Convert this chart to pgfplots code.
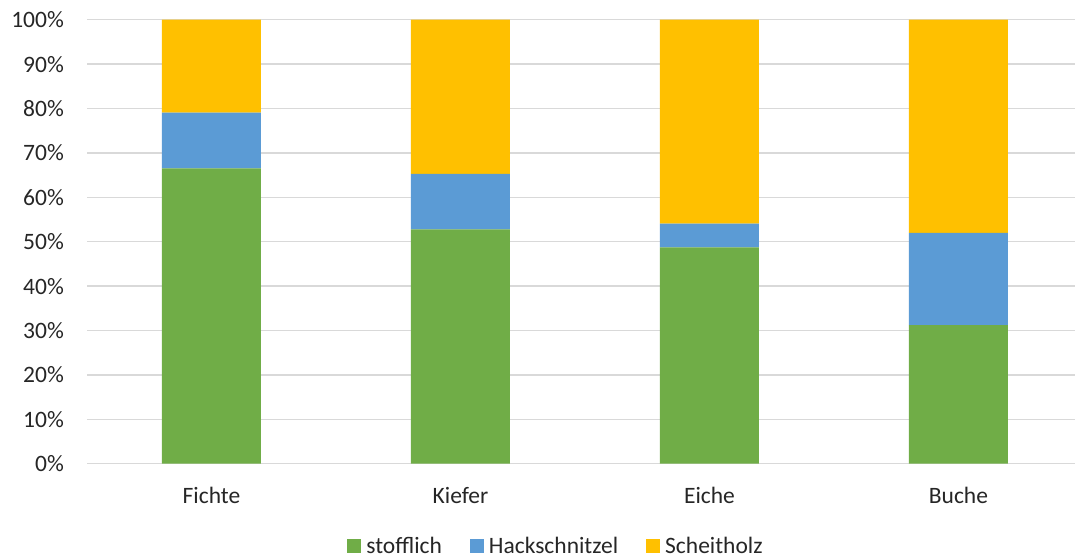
\documentclass[border=0pt]{standalone}
\usepackage{pgfplots}
\pgfplotsset{compat=1.18}
\usepackage{fontspec}
\setmainfont{Carlito}
\definecolor{cgreen}{HTML}{70AD47}
\definecolor{cblue}{HTML}{5B9BD5}
\definecolor{cyellow}{HTML}{FFC000}
\definecolor{gridgray}{HTML}{D9D9D9}
\definecolor{txt}{HTML}{262626}
\newcommand{\lblfont}{\fontsize{23.5}{28}\selectfont}
\begin{document}
\begin{tikzpicture}
\path[use as bounding box] (0,0) rectangle (1075pt,559pt);
\begin{axis}[
  at={(87pt,95.3pt)}, anchor=south west,
  scale only axis, width=988pt, height=444pt,
  ybar stacked, bar width=99pt,
  xmin=-0.5, xmax=3.468, ymin=0, ymax=100,
  xtick={0,1,2,3}, xticklabels={Fichte,Kiefer,Eiche,Buche},
  ytick={0,10,...,100},
  yticklabel={\pgfmathprintnumber[assume math mode=true]{\tick}\%},
  ymajorgrids, grid style={gridgray, line width=1.3pt},
  axis line style={draw=none},
  major tick length=0pt,
  tick label style={font=\lblfont, text=txt, inner sep=0pt},
  yticklabel style={xshift=-23pt},
  xticklabel style={anchor=north, yshift=-23pt},
  legend columns=3,
  legend style={draw=none, fill=none, font=\lblfont, text=txt,
    at={(axis description cs:0.4737,-0.186)}, anchor=center,
    /tikz/every odd column/.append style={column sep=5pt},
    /tikz/every even column/.append style={column sep=28pt},
    nodes={inner sep=0pt, anchor=west}},
  legend image code/.code={\fill[#1] (0pt,-7pt) rectangle (14pt,7pt);},
  legend cell align=left,
  clip=false,
]
\addplot[fill=cgreen, draw=none] coordinates {(0,66.5) (1,52.8) (2,48.7) (3,31.2)};
\addplot[fill=cblue, draw=none] coordinates {(0,12.55) (1,12.5) (2,5.35) (3,20.8)};
\addplot[fill=cyellow, draw=none] coordinates {(0,20.95) (1,34.7) (2,45.95) (3,48.0)};
\legend{stofflich,Hackschnitzel,Scheitholz}
\end{axis}
\end{tikzpicture}
\end{document}
